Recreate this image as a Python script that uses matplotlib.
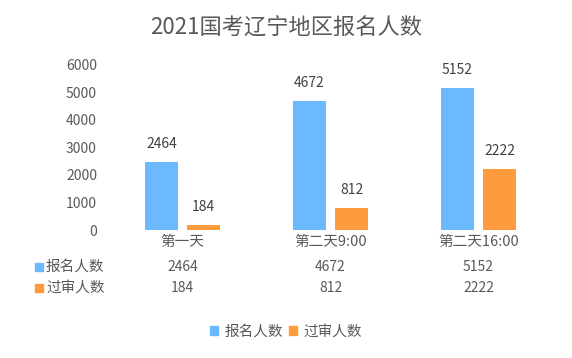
import matplotlib.pyplot as plt
from matplotlib.patches import Rectangle, Patch
import numpy as np

plt.rcParams['font.family'] = ['Noto Sans CJK SC', 'DejaVu Sans']

categories = ["第一天", "第二天9:00", "第二天16:00"]
series_names = ["报名人数", "过审人数"]
signup = [2464, 4672, 5152]
approved = [184, 812, 2222]
colors = ["#6cb9ff", "#ff9a3d"]
text_gray = "#595959"

W, H = 572, 358
fig = plt.figure(figsize=(W / 100, H / 100), dpi=100)

# axes placed in pixel terms
ax_l, ax_r, ax_b, ax_t = 108.5, 552.5, 230, 64.6
ax = fig.add_axes([ax_l / W, (H - ax_b) / H, (ax_r - ax_l) / W, (ax_b - ax_t) / H])

x = np.arange(len(categories))
bw = 0.223
off = 0.142
b1 = ax.bar(x - off, signup, bw, color=colors[0])
b2 = ax.bar(x + off, approved, bw, color=colors[1])

for bars, vals in ((b1, signup), (b2, approved)):
    for rect, v in zip(bars, vals):
        ax.annotate(str(v), (rect.get_x() + rect.get_width() / 2, v),
                    xytext=(0, 13), textcoords="offset points",
                    ha="center", va="center", fontsize=10, color="#404040")

ax.set_xlim(-0.5, len(categories) - 0.5)
ax.set_ylim(0, 6000)
ax.set_yticks(range(0, 6001, 1000))
ax.tick_params(axis="y", length=0, pad=8.3, labelsize=10, labelcolor=text_gray)
ax.set_xticks([])
for s in ax.spines.values():
    s.set_visible(False)

# category labels and data table under the axes
ax_h = ax_b - ax_t
def ypix(py):
    return (ax_b - py) / ax_h

trans = ax.get_xaxis_transform()
for i, c in enumerate(categories):
    ax.text(i, ypix(242), c, transform=trans, ha="center", va="center",
            fontsize=10.5, color=text_gray, clip_on=False)
    ax.text(i, ypix(266.7), str(signup[i]), transform=trans, ha="center", va="center",
            fontsize=10, color=text_gray, clip_on=False)
    ax.text(i, ypix(287.7), str(approved[i]), transform=trans, ha="center", va="center",
            fontsize=10, color=text_gray, clip_on=False)

for py, name, col in ((266.7, series_names[0], colors[0]), (287.7, series_names[1], colors[1])):
    fig.patches.append(Rectangle((35 / W, (H - py - 4) / H), 8 / W, 8 / H,
                                 transform=fig.transFigure, color=col))
    fig.text(46 / W, (H - py) / H, name, ha="left", va="center",
             fontsize=10.5, color=text_gray)

fig.text(0.5, (H - 28) / H, "2021国考辽宁地区报名人数", ha="center", va="center",
         fontsize=16, color=text_gray, fontweight="light")

handles = [Patch(color=colors[0], label=series_names[0]),
           Patch(color=colors[1], label=series_names[1])]
leg = fig.legend(handles=handles, loc="center", bbox_to_anchor=(286 / W, (H - 331.7) / H),
                 ncol=2, frameon=False, fontsize=10.5, handlelength=0.55, handleheight=0.55,
                 handletextpad=0.45, columnspacing=0.45, borderaxespad=0)
for t in leg.get_texts():
    t.set_color(text_gray)

fig.savefig("out.png", dpi=100, facecolor="white")
